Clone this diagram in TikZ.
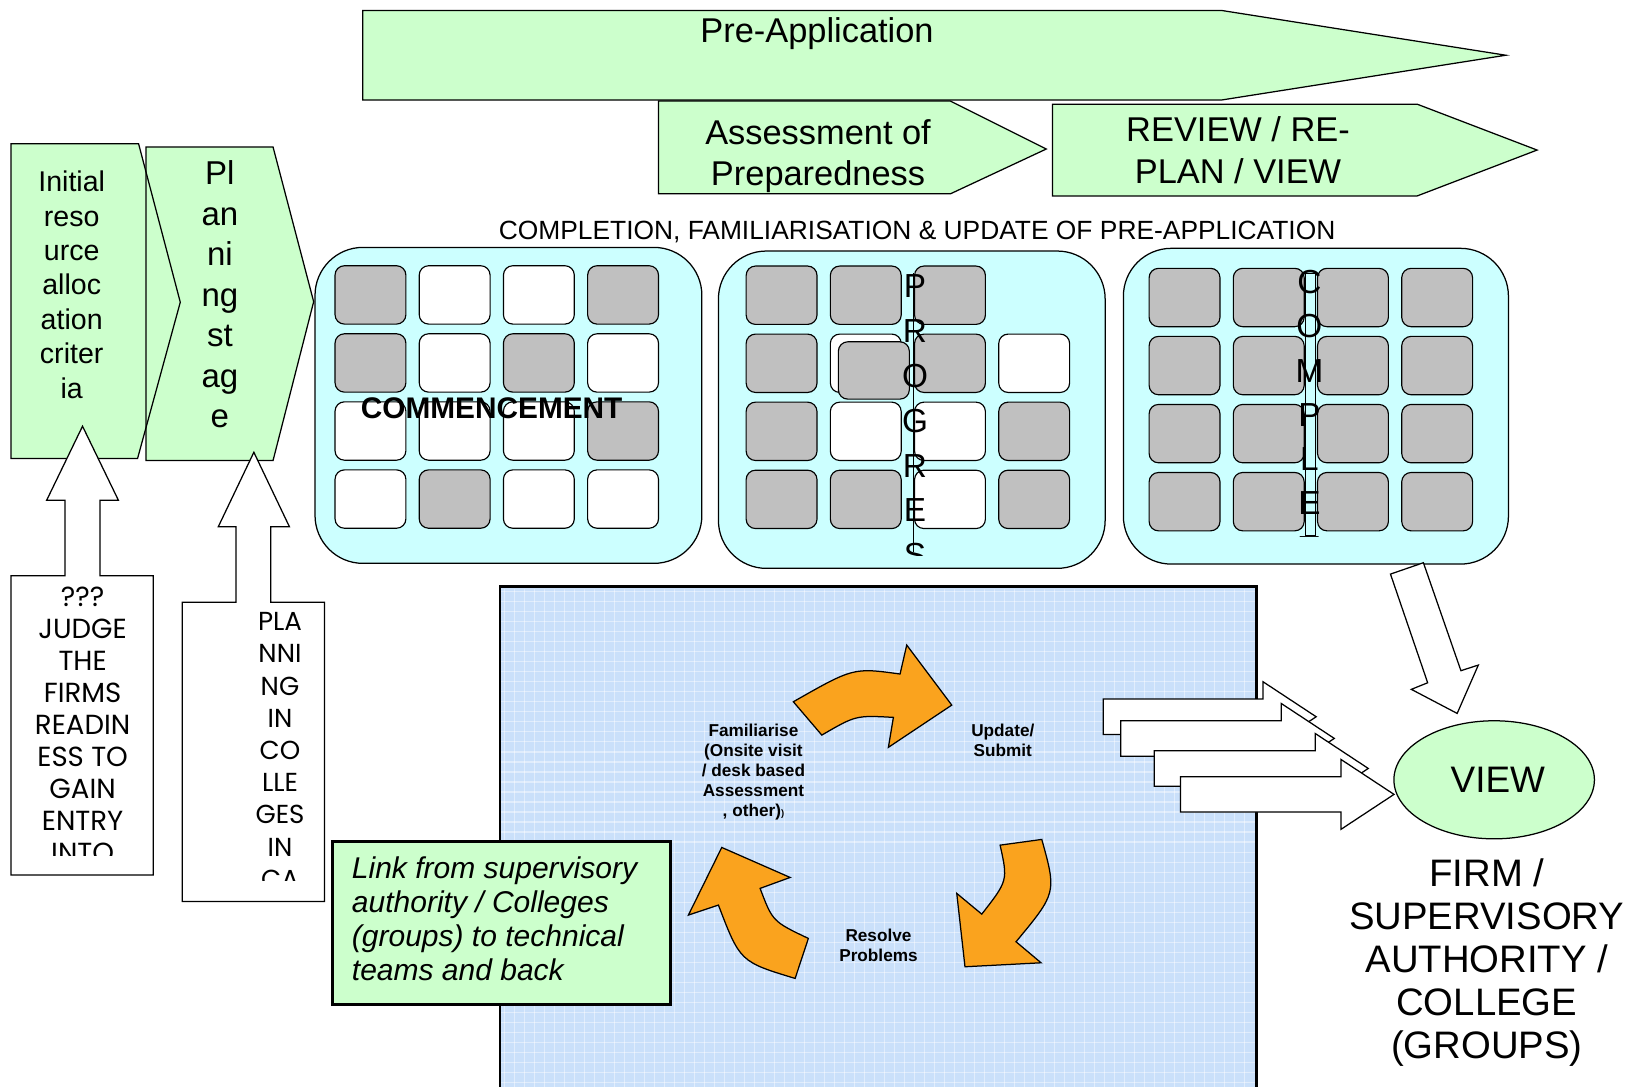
\documentclass[tikz,border=0pt]{standalone}
\usepackage{fontspec}
\setmainfont{Liberation Sans}
\newfontfamily\gothic{Poppins}
\usepackage{tikz}
\usetikzlibrary{shapes.geometric}

\definecolor{stagegreen}{RGB}{204,255,204}
\definecolor{panelcyan}{RGB}{204,255,255}
\definecolor{cellgray}{RGB}{192,192,192}
\definecolor{cycleorange}{RGB}{250,163,30}
\definecolor{gridblue}{RGB}{202,224,250}

\newcommand{\fsz}[2]{\fontsize{#1}{#2}\selectfont}

\begin{document}
\begin{tikzpicture}[x=1pt,y=-1pt,
    stage/.style={draw,fill=stagegreen,line width=1.2pt},
    panel/.style={draw,fill=panelcyan,line width=1.2pt,rounded corners=46pt},
    cell g/.style={draw,fill=cellgray,line width=1.1pt,rounded corners=9pt},
    cell w/.style={draw,fill=white,line width=1.1pt,rounded corners=9pt},
    cell n/.style={},
    block arrow/.style={draw,fill=white,line width=1.2pt},
    cycle arrow/.style={draw,fill=cycleorange,line width=1.2pt},
    txt/.style={inner sep=0pt,align=center}]

    \useasboundingbox (0,0) rectangle (1568,1043);

    % top stages
    \draw[stage] (348,10) -- (1172,10) -- (1445,53) -- (1172,96) -- (348,96) -- cycle;
    \draw[stage] (632,97) -- (912,97) -- (1004,143) -- (912,186) -- (632,186) -- cycle;
    \draw[stage] (1010,100) -- (1360,100) -- (1475,144) -- (1360,188) -- (1010,188) -- cycle;
    \node[txt,font=\fsz{33}{38}] (preapp) at (784,32) {Pre-Application};
    \node[txt,font=\fsz{33}{39.5}] (assess) at (785,150) {Assessment of\\Preparedness};
    \node[txt,font=\fsz{33}{40}] (review) at (1188,144) {REVIEW / RE-\\PLAN / VIEW};
    \node[txt,font=\fsz{25.3}{28}] (complete) at (880,223)
        {COMPLETION, FAMILIARISATION \& UPDATE OF PRE-APPLICATION};

    % left chevrons
    \fill[stagegreen] (140,141) -- (262,141) -- (301,289.5) -- (262,442) -- (140,442) -- cycle;
    \fill[stagegreen] (10.6,138) -- (133,138) -- (173,290) -- (132,440) -- (10.6,440) -- cycle;
    \draw[line width=1.2pt] (140,141) -- (262,141) -- (301,289.5) -- (262,442) -- (140,442) -- cycle;
    \draw[line width=1.2pt] (10.6,138) -- (133,138) -- (173,290) -- (132,440) -- (10.6,440) -- cycle;
    \node[txt,font=\fsz{27.4}{33}] (initial) at (68.8,273.2)
        {Initial\\reso\\urce\\alloc\\ation\\criter\\ia};
    \node[txt,font=\fsz{31.7}{38.8}] (planning) at (211,282.5)
        {Pl\\an\\ni\\ng\\st\\ag\\e};

    % callouts pointing up
    \draw[block arrow] (10.6,552.5) -- (62.4,552.5) -- (62.4,480) -- (44.8,480) -- (79.2,409)
        -- (113.6,480) -- (96,480) -- (96,552.5) -- (147,552.5) -- (147,839.7) -- (10.6,839.7) -- cycle;
    \draw[block arrow] (175,578) -- (226.5,578) -- (226.5,505.4) -- (209.5,505.4) -- (243.6,434)
        -- (277.7,505.4) -- (259.8,505.4) -- (259.8,578) -- (311.3,578) -- (311.3,865) -- (175,865) -- cycle;
    \begin{scope}
        \clip (12,554) rectangle (146,820.6);
        \node[txt,font=\gothic\fsz{26.5}{30.8}] (judge) at (79.3,695.5)
            {???\\JUDGE\\THE\\FIRMS\\READIN\\ESS TO\\GAIN\\ENTRY\\INTO};
    \end{scope}
    \begin{scope}
        \clip (176,580) rectangle (310,845);
        \node[txt,font=\gothic\fsz{25}{30.9}] (plancol) at (268.7,720.2)
            {PLA\\NNI\\NG\\IN\\CO\\LLE\\GES\\IN\\CA};
    \end{scope}

    % panels of cells
    \draw[panel] (302.3,237.4) rectangle (673.5,540.6);
    \draw[panel] (689.4,240.9) rectangle (1060.5,545.4);
    \draw[panel] (1078,238.3) rectangle (1447.5,541.3);
    \foreach \c [count=\i from 0] in {g,w,w,g,g,w,g,w,w,w,w,g,w,g,w,w}{
        \pgfmathsetmacro\cx{321.5+80.8*mod(\i,4)}
        \pgfmathsetmacro\cy{255+65.3*int(\i/4)}
        \path[cell \c] (\cx,\cy) rectangle ++(68,56);
    }
    \foreach \c [count=\i from 0] in {g,g,g,n,g,w,g,w,g,w,w,g,g,g,w,g}{
        \pgfmathsetmacro\cx{716+80.8*mod(\i,4)}
        \pgfmathsetmacro\cy{255.3+65.3*int(\i/4)}
        \path[cell \c] (\cx,\cy) rectangle ++(68,56);
    }
    \path[cell g] (804.5,328) rectangle (872.6,383);
    \foreach \c [count=\i from 0] in {g,g,g,g,g,g,g,g,g,g,g,g,g,g,g,g}{
        \pgfmathsetmacro\cx{1102.7+80.8*mod(\i,4)}
        \pgfmathsetmacro\cy{257.5+65.3*int(\i/4)}
        \path[cell \c] (\cx,\cy) rectangle ++(68,56);
    }
    \node[txt,font=\bfseries\fsz{28.6}{30}] (commence) at (471.8,392) {COMMENCEMENT};
    \draw[line width=0.8pt] (876.5,262) -- (876.5,530);
    \draw[fill=panelcyan,line width=0.8pt] (1252.4,262) rectangle (1262,514);
    \begin{scope}
        \clip (840,250) rectangle (920,532.6);
        \node[txt,font=\fsz{32}{43}] (progress) at (878,404) {P\\R\\O\\G\\R\\E\\S};
    \end{scope}
    \begin{scope}
        \clip (1220,250) rectangle (1295,515);
        \node[txt,font=\fsz{32}{42.5}] (complet) at (1256.5,397.9) {C\\O\\M\\P\\L\\E\\T};
    \end{scope}

    % technical team area
    \fill[gridblue] (479.8,563) rectangle (1205.4,1050);
    \foreach \gx in {484,493.6,...,1200}
        \draw[white,opacity=0.45,line width=1pt] (\gx,565) -- (\gx,1043);
    \foreach \gy in {568,577.6,...,1043}
        \draw[white,opacity=0.45,line width=1pt] (481,\gy) -- (1204,\gy);
    \draw[line width=2.8pt] (479.8,1050) -- (479.8,563) -- (1205.4,563) -- (1205.4,1050);

    % cycle
    \draw[cycle arrow] (761.3,673.4) .. controls (818.9,640.6) .. (863.7,646.8) -- (870.1,619)
        -- (913.3,676.6) -- (852.5,717.2) -- (857.3,688.4) .. controls (821.3,686.4) .. (788.6,705.4) -- cycle;
    \draw[cycle arrow] (999.7,805.5) .. controls (1013.9,856.8) .. (975,903.7) -- (999,923.9)
        -- (926,927.7) -- (918.1,857.3) -- (942.1,877.2) .. controls (967.2,845) .. (959.7,811) -- cycle;
    \draw[cycle arrow] (763,938.9) .. controls (710.2,922.9) .. (689.4,868.5) -- (660.6,878.1)
        -- (692.6,813.2) -- (758.2,842) -- (729.4,852.5) .. controls (741.4,884.2) .. (775.7,900.5) -- cycle;
    \node[txt,font=\bfseries\fsz{16.5}{19.3}] (famil) at (723,741)
        {Familiarise\\(Onsite visit\\/ desk based\\Assessment\\, other){\fsz{9}{9})}};
    \node[txt,font=\bfseries\fsz{16.5}{19.2}] (update) at (962.3,710.2) {Update/\\Submit};
    \node[txt,font=\bfseries\fsz{16.5}{19.2}] (resolve) at (843,906.9) {Resolve\\Problems};

    % link box
    \draw[fill=stagegreen,line width=2.8pt] (319.3,807.7) rectangle (643,963.5);
    \node[inner sep=0pt,align=left,anchor=west,font=\itshape\fsz{28.8}{32.7}] (link) at (337.5,881.6)
        {Link from supervisory\\authority / Colleges\\(groups) to technical\\teams and back};

    % arrows to VIEW
    \foreach \l/\t/\h in {1058.7/670.8/1212,1075.4/691.6/1229.4,1107.7/720.4/1262,1132.7/745.3/1286.7}
        \draw[block arrow] (\l,\t) -- (\h,\t) -- (\h,{\t-16.6}) -- ({\h+51},{\t+17})
            -- (\h,{\t+50.6}) -- (\h,{\t+34}) -- (\l,{\t+34}) -- cycle;
    \draw[block arrow] (1334.3,550.9) -- (1365.9,540) -- (1401.9,643.6) -- (1418.6,638.2)
        -- (1398.3,684.6) -- (1354.3,661.5) -- (1370,655.2) -- cycle;
    \node[ellipse,draw,fill=stagegreen,line width=1.2pt,minimum width=192.4pt,minimum height=113.3pt,
        inner sep=0pt,font=\fsz{35.4}{40}] (view) at (1433.8,748.3) {\hspace*{7pt}VIEW};
    \node[txt,font=\fsz{36.75}{41.2}] (firm) at (1426.7,924)
        {FIRM /\\SUPERVISORY\\AUTHORITY /\\COLLEGE\\(GROUPS)};
\end{tikzpicture}
\end{document}
